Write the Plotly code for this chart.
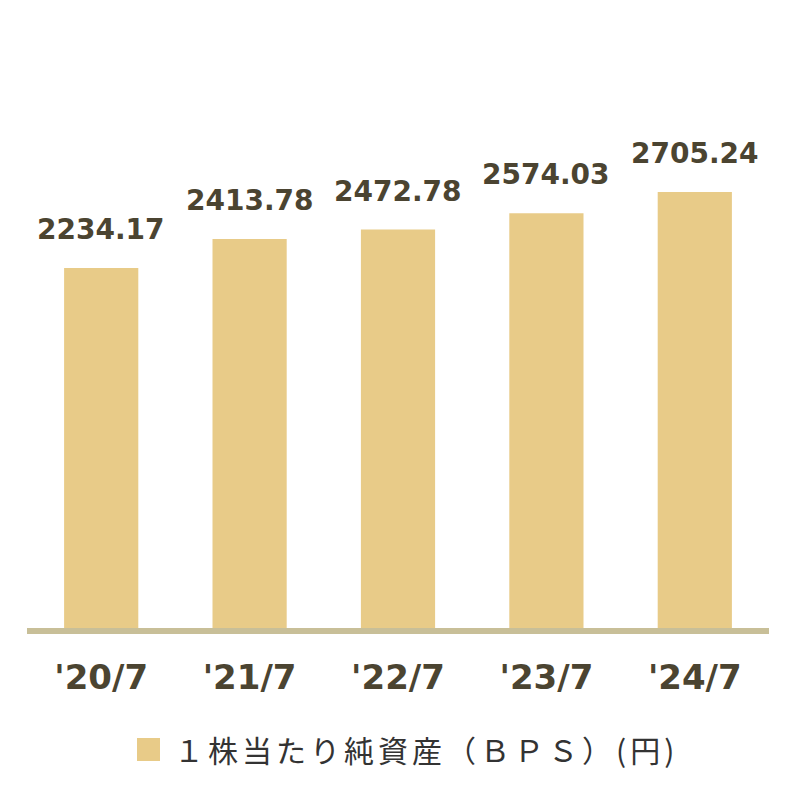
import plotly.graph_objects as go

categories = ["'20/7", "'21/7", "'22/7", "'23/7", "'24/7"]
bps_values = [2234.17, 2413.78, 2472.78, 2574.03, 2705.24]
value_labels = ["2234.17", "2413.78", "2472.78", "2574.03", "2705.24"]
series_name = "１株当たり純資産（ＢＰＳ）(円)"

bar_color = "#e8cb88"
text_color = "#4b4431"

# page has an 8px body margin: offsets below are in screen px minus 8
OFF = 8
plot_left, plot_right, plot_top, plot_bottom = 27, 769, 100, 628
W = plot_right - plot_left
H = plot_bottom - plot_top

fig = go.Figure()
fig.add_trace(go.Bar(
    x=categories,
    y=bps_values,
    name=series_name,
    marker=dict(color=bar_color, line=dict(width=0)),
    width=0.5,
    showlegend=False,
))

for c, v, lab in zip(categories, bps_values, value_labels):
    fig.add_annotation(
        x=c, y=v, xref="x", yref="y", text=lab, showarrow=False,
        xanchor="center", yanchor="bottom", yshift=20,
        font=dict(family="DejaVu Sans", size=28, color=text_color, weight="bold"),
    )

fig.update_layout(
    width=800, height=800,
    margin=dict(l=plot_left - OFF, r=800 - (plot_right - OFF),
                t=plot_top - OFF, b=800 - (plot_bottom - OFF)),
    paper_bgcolor="white",
    plot_bgcolor="white",
    xaxis=dict(
        showline=True, linewidth=6, linecolor="#c8bf98",
        showgrid=False, zeroline=False,
        ticks="outside", ticklen=14, tickcolor="rgba(0,0,0,0)",
        tickfont=dict(family="DejaVu Sans", size=34, color=text_color, weight="bold"),
    ),
    yaxis=dict(
        range=[0, H / (360 / 2234.17)], visible=False, showgrid=False, zeroline=False,
    ),
    showlegend=False,
)

# Legend (drawn manually to match the large square swatch)
fig.add_shape(type="rect", xref="paper", yref="paper",
              x0=(137 - plot_left) / W, x1=(160 - plot_left) / W,
              y0=(plot_bottom - 761) / H, y1=(plot_bottom - 738) / H,
              fillcolor=bar_color, line=dict(width=0))
fig.add_annotation(xref="paper", yref="paper",
                   x=(172 - plot_left) / W, y=(plot_bottom - 749) / H,
                   xanchor="left", yanchor="middle", showarrow=False,
                   text='<span style="letter-spacing:4px">' + series_name + '</span>',
                   font=dict(family="Noto Sans CJK JP", size=30, color="#333333"))

fig.write_html("out.html")
